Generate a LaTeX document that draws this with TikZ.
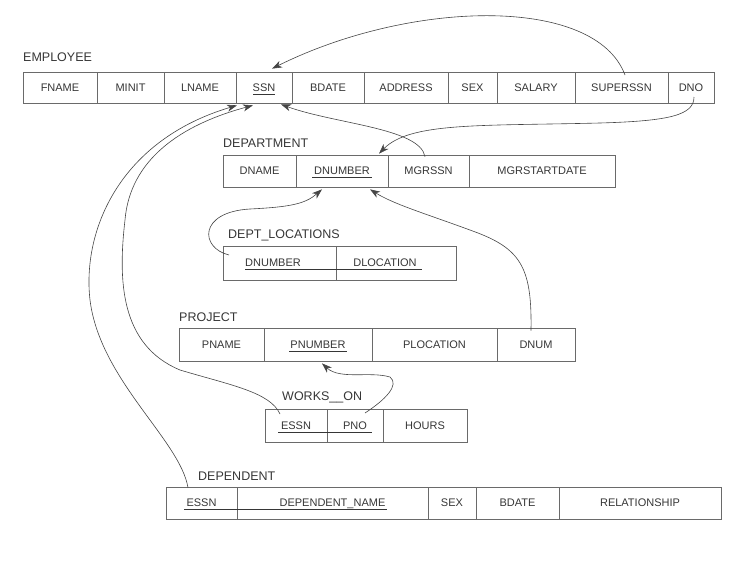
\documentclass[tikz,border=0pt]{standalone}
\usepackage{fontspec}
\setmainfont{Liberation Sans}
\usetikzlibrary{arrows.meta,calc}
\definecolor{boxcol}{HTML}{6A6A6A}
\definecolor{txtcol}{HTML}{363636}
\definecolor{linkcol}{HTML}{454545}
\begin{document}
\begin{tikzpicture}[x=1pt,y=-1pt,
  cell/.style={draw=boxcol,line width=0.7pt,inner sep=0pt,minimum height=32pt,
    text=txtcol,font=\fontsize{11}{13}\selectfont,text height=7.9pt,text depth=0pt},
  tlabel/.style={inner sep=0pt,text=txtcol,font=\fontsize{12.5}{14}\selectfont,anchor=base west},
  ul/.style={draw=txtcol,line width=0.6pt},
  fk/.style={draw=linkcol,line width=0.6pt,-{Stealth[length=10pt,width=7pt,inset=3pt]}}]
\useasboundingbox (0,0) rectangle (737,562);

% EMPLOYEE
\node[tlabel] (lemp) at (23,61) {EMPLOYEE};
\node[cell,minimum height=31pt,minimum width=74pt] (e1) at (60,87.5) {FNAME};
\node[cell,minimum height=31pt,minimum width=67pt] (e2) at (130.5,87.5) {MINIT};
\node[cell,minimum height=31pt,minimum width=72pt] (e3) at (200,87.5) {LNAME};
\node[cell,minimum height=31pt,minimum width=56pt] (e4) at (264,87.5) {SSN};
\node[cell,minimum height=31pt,minimum width=72pt] (e5) at (328,87.5) {BDATE};
\node[cell,minimum height=31pt,minimum width=84pt] (e6) at (406,87.5) {ADDRESS};
\node[cell,minimum height=31pt,minimum width=49pt] (e7) at (472.5,87.5) {SEX};
\node[cell,minimum height=31pt,minimum width=78pt] (e8) at (536,87.5) {SALARY};
\node[cell,minimum height=31pt,minimum width=93pt] (e9) at (621.5,87.5) {SUPERSSN};
\node[cell,minimum height=31pt,minimum width=46pt] (e10) at (691,87.5) {DNO};
\draw[ul] ($(e4.center)+(-11,6.5)$) -- ($(e4.center)+(11,6.5)$);

% DEPARTMENT
\node[tlabel] (ldep) at (223,147) {DEPARTMENT};
\node[cell,minimum width=73pt] (d1) at (259.5,171) {DNAME};
\node[cell,minimum width=92pt] (d2) at (342,171) {DNUMBER};
\node[cell,minimum width=81pt] (d3) at (428.5,171) {MGRSSN};
\node[cell,minimum width=146pt] (d4) at (542,171) {MGRSTARTDATE};
\draw[ul] ($(d2.center)+(-30,6.5)$) -- ($(d2.center)+(30,6.5)$);

% DEPT_LOCATIONS
\node[tlabel] (ldl) at (228,238) {DEPT\_LOCATIONS};
\node[cell,minimum height=34pt,minimum width=113pt] (dl1) at (279.5,263) {\hspace*{-13pt}DNUMBER};
\node[cell,minimum height=34pt,minimum width=120pt] (dl2) at (396,263) {\hspace*{-22pt}DLOCATION};
\draw[ul] ($(dl1.center)+(-34.5,6)$) -- ($(dl2.center)+(26,6)$);

% PROJECT
\node[tlabel] (lproj) at (179,321) {PROJECT};
\node[cell,minimum height=33pt,minimum width=85pt] (p1) at (221.5,344.5) {PNAME};
\node[cell,minimum height=33pt,minimum width=108pt] (p2) at (318,344.5) {PNUMBER};
\node[cell,minimum height=33pt,minimum width=125pt] (p3) at (434.5,344.5) {PLOCATION};
\node[cell,minimum height=33pt,minimum width=78pt] (p4) at (536,344.5) {DNUM};
\draw[ul] ($(p2.center)+(-29,6.5)$) -- ($(p2.center)+(29,6.5)$);

% WORKS_ON
\node[tlabel] (lwo) at (282,400) {WORKS\_\_ON};
\node[cell,minimum height=33pt,minimum width=62pt] (w1) at (296,425.5) {ESSN};
\node[cell,minimum height=33pt,minimum width=56pt] (w2) at (355,425.5) {PNO};
\node[cell,minimum height=33pt,minimum width=84pt] (w3) at (425,425.5) {HOURS};
\draw[ul] ($(w1.center)+(-18,6.5)$) -- ($(w2.center)+(17,6.5)$);

% DEPENDENT
\node[tlabel] (ldp) at (198,480) {DEPENDENT};
\node[cell,minimum width=71pt] (dp1) at (201.5,503) {ESSN};
\node[cell,minimum width=191pt] (dp2) at (332.5,503) {DEPENDENT\_NAME};
\node[cell,minimum width=48pt] (dp3) at (452,503) {SEX};
\node[cell,minimum width=83pt] (dp4) at (517.5,503) {BDATE};
\node[cell,minimum width=162pt] (dp5) at (640,503) {RELATIONSHIP};
\draw[ul] ($(dp1.center)+(-17.5,6.5)$) -- ($(dp2.center)+(54,6.5)$);

% foreign keys
\draw[fk] ($(e9.center)+(3.5,-12.5)$) .. controls (595,-5) and (410,0) .. ($(e4.north)+(8,-3)$);
\draw[fk] ($(e10.center)+(3,9.5)$) .. controls (694,115) and (670,121) .. (600,123)
   .. controls (480,126) and (410,122) .. ($(d2.north)+(37,-1)$);
\draw[fk] ($(d3.north)+(-3.5,2)$) .. controls (420,128) and (335,124) .. ($(e4.south)+(17,1)$);
\draw[fk] ($(dl1.center)+(-50.5,-8)$) .. controls (200,248) and (198,212) .. (250,209)
   .. controls (290,207) and (305,204) .. ($(d2.south)+(-20,2)$);
\draw[fk] ($(p4.north)+(-5,3)$) .. controls (532,270) and (522,250) .. (478,233)
   .. controls (430,215) and (395,205) .. ($(d2.south)+(28,2)$);
\draw[fk] ($(w1.center)+(-16,-11.5)$) .. controls (270,392) and (230,385) .. (180,370)
   .. controls (120,345) and (118,280) .. (125,220)
   .. controls (130,160) and (180,125) .. ($(e4.south)+(-11,2)$);
\draw[fk] ($(dp1.north)+(-13.5,1)$) .. controls (180,440) and (100,380) .. (90,300)
   .. controls (82,230) and (120,140) .. ($(e4.south)+(-27,2)$);
\draw[fk] ($(w2.center)+(10,-12.5)$) .. controls (385,400) and (400,385) .. (390,377)
   .. controls (370,371) and (340,380) .. ($(p2.south)+(4,2)$);
\end{tikzpicture}
\end{document}
